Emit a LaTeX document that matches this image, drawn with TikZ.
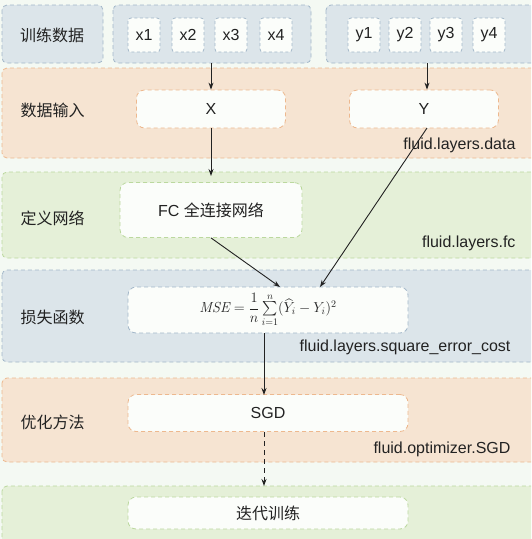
\documentclass[tikz,border=0pt]{standalone}
\usepackage{fontspec}
\usepackage{amsmath}
\setsansfont{Liberation Sans}
\newfontfamily\cjk{Noto Sans CJK SC}
\usetikzlibrary{arrows.meta}
\definecolor{bgc}{HTML}{F4F9F3}
\definecolor{bluef}{HTML}{DCE5EA}
\definecolor{blued}{HTML}{A3B7C9}
\definecolor{peachf}{HTML}{F6E4D2}
\definecolor{peachd}{HTML}{EDB88E}
\definecolor{greenf}{HTML}{E5F0D8}
\definecolor{greend}{HTML}{BBD89E}
\definecolor{innerf}{HTML}{FBFDFA}
\definecolor{ink}{HTML}{222222}
\tikzset{
  band/.style={draw=#1d, fill=#1f, dashed, dash pattern=on 4pt off 3pt, line width=0.8pt, rounded corners=5pt},
  inner/.style={draw=#1d, fill=innerf, dashed, dash pattern=on 4pt off 3pt, line width=0.8pt, rounded corners=8pt},
  cell/.style={draw=blued, fill=innerf, dashed, dash pattern=on 3pt off 2.5pt, line width=0.8pt, rounded corners=3pt},
  lab/.style={font=\cjk\fontsize{16}{18}\selectfont, text=ink},
  txt/.style={font=\sffamily\fontsize{16}{18}\selectfont, text=ink},
  api/.style={font=\sffamily\fontsize{16}{18}\selectfont, text=ink, anchor=east},
  arr/.style={-{Stealth[length=7pt,width=5pt]}, draw=ink, line width=0.9pt},
}
\begin{document}
\begin{tikzpicture}[x=1pt,y=-1pt]
\useasboundingbox (0,0) rectangle (531,539);
\clip (0,0) rectangle (531,539);
\fill[bgc] (0,0) rectangle (531,539);
% row 1
\draw[band=blue] (2,5) rectangle (103,63);
\node[lab] (l1) at (52,35) {训练数据};
\draw[band=blue] (113,5) rectangle (311,63);
\draw[band=blue] (326,5) rectangle (540,63);
\coordinate (xg) at (211,63);
\coordinate (yg) at (427,63);
\foreach \n/\cx in {1/144,2/188,3/231,4/276}{
  \draw[cell] (\cx-16,18) rectangle (\cx+16,52);
  \node[txt] (x\n) at (\cx,35) {x\n};
}
\foreach \n/\cx in {1/364,2/405,3/446,4/489}{
  \draw[cell] (\cx-16,18) rectangle (\cx+16,52);
  \node[txt] (y\n) at (\cx,35) {y\n};
}
% row 2
\draw[band=peach] (2,68) rectangle (540,158);
\node[lab, anchor=west] (l2) at (17,110) {数据输入};
\node[inner=peach, minimum width=149pt, minimum height=38pt, txt] (X) at (211,109) {X};
\node[inner=peach, minimum width=149pt, minimum height=38pt, txt] (Y) at (424,109) {Y};
\node[api] (a2) at (519,145) {fluid.layers.data};
% row 3
\draw[band=green] (2,172) rectangle (540,258);
\node[lab, anchor=west] (l3) at (17,218) {定义网络};
\node[inner=green, minimum width=182pt, minimum height=55pt] (FC) at (211,210) {\sffamily\fontsize{16}{18}\selectfont\color{ink}FC\ \cjk 全连接网络};
\node[api] (a3) at (519,243) {fluid.layers.fc};
\coordinate (fcin) at (211,176);
% row 4
\draw[band=blue] (2,270) rectangle (540,362);
\node[lab, anchor=west] (l4) at (17,317) {损失函数};
\node[inner=blue, minimum width=280pt, minimum height=46pt] (MSE) at (268,310) {\fontsize{14.5}{17}\selectfont\color{ink}$\mathit{MSE}=\dfrac{1}{n}\sum\limits_{i=1}^{n}(\widehat{Y}_i - Y_i)^2$};
\node[api] (a4) at (514,347) {fluid.layers.square\_error\_cost};
\coordinate (m1) at (280,287);
\coordinate (m2) at (320,287);
% row 5
\draw[band=peach] (2,378) rectangle (540,462);
\node[lab, anchor=west] (l5) at (17,422) {优化方法};
\node[inner=peach, minimum width=280pt, minimum height=37pt, txt] (SGD) at (268,413) {SGD};
\node[api] (a5) at (514,449) {fluid.optimizer.SGD};
% row 6
\draw[band=green] (2,486) rectangle (540,545);
\node[inner=green, minimum width=280pt, minimum height=32pt, lab] (IT) at (268,513) {迭代训练};
\coordinate (itin) at (264,486);
% arrows
\draw[arr] (xg) -- (X.north);
\draw[arr] (yg) -- (yg |- Y.north);
\draw[arr] (X.south) -- (fcin);
\draw[arr] (FC.south) -- (m1);
\draw[arr] (427,128) -- (m2);
\draw[arr] (264,333) -- (264,395);
\draw[arr, dashed, dash pattern=on 5pt off 4pt] (264,432) -- (itin);
\end{tikzpicture}
\end{document}
